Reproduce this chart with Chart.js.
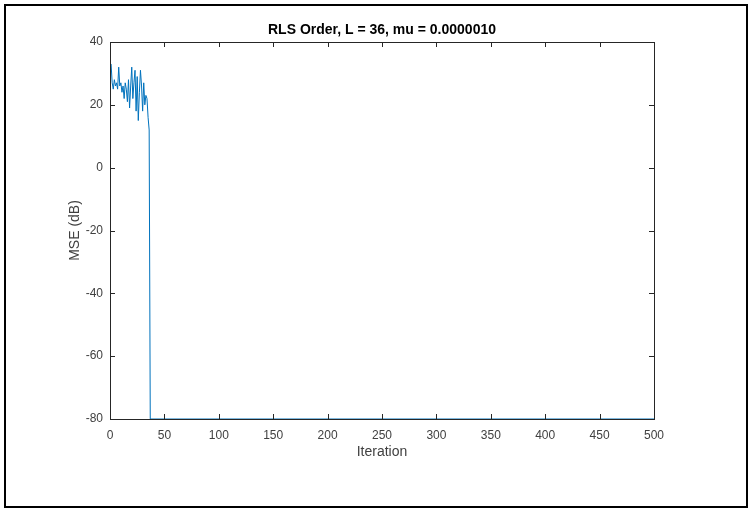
<!DOCTYPE html>
<html>
<head>
<meta charset="utf-8">
<script src="https://cdn.jsdelivr.net/npm/chart.js@4.4.1/dist/chart.umd.min.js"></script>
<style>
html,body{margin:0;padding:0;background:#fff;}
#wrap{width:751px;height:510px;}
</style>
</head>
<body>
<div id="wrap"><canvas id="c" width="751" height="510"></canvas></div>
<script>
// Data
const iterations = [1,2,3,4,5,6,7,8,9,10,11,12,13,14,15,16,17,18,19,20,21,22,23,24,25,26,27,28,29,30,31,32,33,34,35,36,37,500];
const mseDb = [33,27,25,28,26,27,25,32,26,27,24,26,22,27,25,21,28,19,26,32,22,27,31,18,29,15,24,31,26,18,27,20,23,22,16,12,-80,-80];
const xTicks = [0,50,100,150,200,250,300,350,400,450,500];
const yTicks = [-80,-60,-40,-20,0,20,40];
const titleText = 'RLS Order, L = 36, mu = 0.0000010';
const xTitle = 'Iteration';
const yTitle = 'MSE (dB)';

const points = iterations.map((x, i) => ({x: x, y: mseDb[i]}));

const FONT = "'Liberation Sans', Arial, Helvetica, sans-serif";
const AXIS_COLOR = '#262626';
const LABEL_COLOR = '#404040';

const framePlugin = {
  id: 'frame',
  beforeDraw(chart) {
    const ctx = chart.ctx;
    ctx.save();
    ctx.fillStyle = '#ffffff';
    ctx.fillRect(0, 0, chart.width, chart.height);
    ctx.restore();
  },
  afterDraw(chart) {
    const ctx = chart.ctx;
    const a = chart.chartArea;
    const xs = chart.scales.x, ys = chart.scales.y;
    ctx.save();
    ctx.strokeStyle = AXIS_COLOR;
    ctx.lineWidth = 1;
    ctx.strokeRect(Math.round(a.left) + 0.5, Math.round(a.top) + 0.5,
                   Math.round(a.right - a.left), Math.round(a.bottom - a.top));
    const tl = 5;
    ctx.beginPath();
    xs.ticks.forEach(t => {
      const px = Math.round(xs.getPixelForValue(t.value)) + 0.5;
      ctx.moveTo(px, a.bottom); ctx.lineTo(px, a.bottom - tl);
      ctx.moveTo(px, a.top); ctx.lineTo(px, a.top + tl);
    });
    ys.ticks.forEach(t => {
      const py = Math.round(ys.getPixelForValue(t.value)) + 0.5;
      ctx.moveTo(a.left, py); ctx.lineTo(a.left + tl, py);
      ctx.moveTo(a.right, py); ctx.lineTo(a.right - tl, py);
    });
    ctx.stroke();
    ctx.fillStyle = '#000000';
    ctx.font = "bold 14px " + FONT;
    ctx.textAlign = 'center';
    ctx.textBaseline = 'middle';
    ctx.fillText(titleText, (a.left + a.right) / 2, a.top - 12);
    ctx.strokeStyle = '#000000';
    ctx.lineWidth = 2;
    ctx.strokeRect(5, 5, chart.width - 9, chart.height - 8);
    ctx.restore();
  }
};

new Chart(document.getElementById('c'), {
  type: 'line',
  data: {
    datasets: [{
      data: points,
      borderColor: '#0072BD',
      borderWidth: 1,
      pointRadius: 0,
      tension: 0,
      fill: false,
      clip: 2
    }]
  },
  options: {
    responsive: false,
    animation: false,
    devicePixelRatio: 1,
    layout: { padding: { left: 60, right: 97, top: 42, bottom: 40 } },
    plugins: { legend: { display: false }, tooltip: { enabled: false }, title: { display: false } },
    scales: {
      x: {
        type: 'linear',
        min: 0, max: 500,
        afterBuildTicks(s) { s.ticks = xTicks.map(v => ({value: v})); },
        afterFit(s) { s.height = 51; },
        grid: { display: false, drawTicks: false },
        border: { display: true, color: AXIS_COLOR, width: 1 },
        ticks: { color: LABEL_COLOR, font: { family: FONT, size: 12 }, padding: 9, maxRotation: 0 },
        title: { display: true, text: xTitle, color: LABEL_COLOR, font: { family: FONT, size: 14 }, padding: { top: 0, bottom: 9 } }
      },
      y: {
        type: 'linear',
        min: -80, max: 40,
        afterBuildTicks(s) { s.ticks = yTicks.map(v => ({value: v})); },
        afterFit(s) { s.width = 50; },
        grid: { display: false, drawTicks: false },
        border: { display: true, color: AXIS_COLOR, width: 1 },
        ticks: { color: LABEL_COLOR, font: { family: FONT, size: 12 }, padding: 7 },
        title: { display: true, text: yTitle, color: LABEL_COLOR, font: { family: FONT, size: 14 }, padding: { top: 7, bottom: 0 } }
      }
    }
  },
  plugins: [framePlugin]
});
</script>
</body>
</html>
